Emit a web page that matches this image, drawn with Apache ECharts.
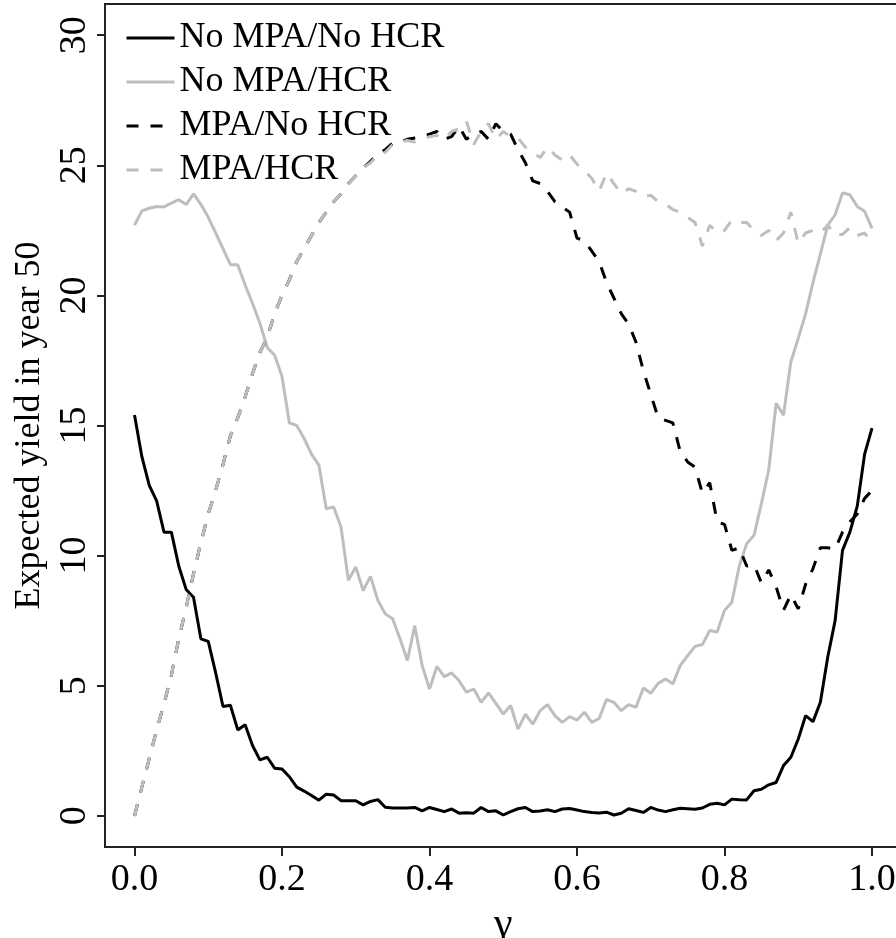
<!DOCTYPE html>
<html>
<head>
<meta charset="utf-8">
<script src="https://cdn.jsdelivr.net/npm/echarts@6/dist/echarts.min.js"></script>
<style>
html,body{margin:0;padding:0;background:#fff;}
#chart{width:896px;height:938px;}
</style>
</head>
<body>
<div id="chart"></div>
<script>
var gamma = [0.00,0.01,0.02,0.03,0.04,0.05,0.06,0.07,0.08,0.09,
0.10,0.11,0.12,0.13,0.14,0.15,0.16,0.17,0.18,0.19,
0.20,0.21,0.22,0.23,0.24,0.25,0.26,0.27,0.28,0.29,
0.30,0.31,0.32,0.33,0.34,0.35,0.36,0.37,0.38,0.39,
0.40,0.41,0.42,0.43,0.44,0.45,0.46,0.47,0.48,0.49,
0.50,0.51,0.52,0.53,0.54,0.55,0.56,0.57,0.58,0.59,
0.60,0.61,0.62,0.63,0.64,0.65,0.66,0.67,0.68,0.69,
0.70,0.71,0.72,0.73,0.74,0.75,0.76,0.77,0.78,0.79,
0.80,0.81,0.82,0.83,0.84,0.85,0.86,0.87,0.88,0.89,
0.90,0.91,0.92,0.93,0.94,0.95,0.96,0.97,0.98,0.99,1.00];

var noMpaNoHcr = [15.4,13.8,12.7,12.1,10.9,10.9,9.6,8.7,8.4,6.8,
6.7,5.5,4.2,4.25,3.3,3.5,2.7,2.15,2.25,1.83,
1.8,1.5,1.1,0.95,0.78,0.6,0.83,0.8,0.58,0.58,
0.58,0.42,0.55,0.62,0.33,0.3,0.3,0.3,0.32,0.19,
0.32,0.24,0.16,0.26,0.1,0.12,0.1,0.32,0.16,0.19,
0.03,0.16,0.27,0.32,0.16,0.18,0.23,0.16,0.26,0.28,
0.22,0.16,0.13,0.11,0.14,0.03,0.1,0.27,0.2,0.13,
0.32,0.22,0.16,0.23,0.29,0.27,0.25,0.3,0.44,0.48,
0.42,0.64,0.62,0.61,0.96,1.02,1.19,1.28,1.93,2.25,
2.95,3.85,3.62,4.36,6.1,7.5,10.2,10.9,11.9,13.9,14.9];

var noMpaHcr = [22.7,23.25,23.35,23.42,23.4,23.55,23.68,23.49,23.9,23.5,
23.0,22.4,21.8,21.18,21.18,20.4,19.7,18.93,18.0,17.7,
16.88,15.1,15.0,14.5,13.9,13.48,11.8,11.87,11.1,9.05,
9.56,8.66,9.2,8.28,7.76,7.57,6.8,5.97,7.3,5.78,
4.87,5.74,5.35,5.49,5.2,4.75,4.87,4.36,4.72,4.32,
3.91,4.24,3.33,3.91,3.52,4.04,4.27,3.85,3.59,3.81,
3.68,3.98,3.59,3.74,4.47,4.36,4.04,4.27,4.17,4.91,
4.71,5.09,5.26,5.07,5.78,6.15,6.51,6.58,7.12,7.06,
7.89,8.21,9.6,10.45,10.78,12.0,13.3,15.85,15.4,17.45,
18.35,19.3,20.5,21.6,22.7,23.1,23.94,23.87,23.42,23.23,22.58];

var mpaNoHcr = [0,1.1,2.2,3.3,4.3,5.4,6.8,8.0,9.3,10.5,
11.6,12.5,13.5,14.6,15.3,16.1,17.0,17.8,18.4,19.3,
20.0,20.6,21.3,21.8,22.3,22.8,23.2,23.6,23.9,24.3,
24.6,24.9,25.15,25.45,25.6,25.85,25.9,26.0,26.05,26.1,
26.2,26.3,26.0,26.1,26.5,26.0,26.2,26.3,26.0,26.6,
26.3,26.2,25.6,25.1,24.4,24.3,24.0,23.6,23.4,23.2,
22.2,22.1,21.7,21.3,20.5,19.9,19.3,18.9,18.2,17.1,
16.2,15.3,15.2,15.1,14.0,13.6,13.4,12.4,12.8,11.3,
11.2,10.2,10.3,9.6,9.65,8.95,9.45,8.8,7.9,8.5,
7.95,8.9,9.5,10.3,10.3,10.25,10.9,11.3,11.6,12.2,12.5];

var mpaHcr = [0,1.1,2.2,3.3,4.3,5.4,6.8,8.0,9.3,10.5,
11.6,12.5,13.5,14.6,15.3,16.1,17.0,17.8,18.4,19.3,
20.0,20.6,21.3,21.8,22.3,22.8,23.2,23.6,23.9,24.3,
24.6,24.9,25.1,25.4,25.5,25.8,25.9,25.95,25.9,26.0,
26.1,26.15,26.0,26.3,26.4,26.7,25.8,26.3,26.6,26.0,
26.3,26.1,26.05,25.7,25.5,25.3,25.7,25.4,25.2,25.4,
25.05,24.8,24.5,24.0,24.7,24.3,23.9,24.1,24.0,23.8,
23.85,23.6,23.5,23.3,23.2,23.0,22.8,21.9,22.7,22.4,
22.5,22.9,22.8,22.8,22.5,22.3,22.5,22.1,22.4,23.2,
22.0,22.4,22.5,22.4,22.7,22.3,22.35,22.6,22.3,22.4,22.0];

var seriesNames = ['No MPA/No HCR','No MPA/HCR','MPA/No HCR','MPA/HCR'];
var xTicks = [0,0.2,0.4,0.6,0.8,1.0];
var yTicks = [0,5,10,15,20,25,30];

function pairs(ys){ return gamma.map(function(g,i){ return [g, ys[i]]; }); }

var FONT = 'Liberation Serif';
var chart = echarts.init(document.getElementById('chart'), null, {renderer:'canvas'});

function mk(name, ys, color, dashed){
  return {
    name: name, type:'line', data: pairs(ys), symbol:'none', showSymbol:false,
    lineStyle:{color:color, width:3, type: dashed ? [12,12] : 'solid'},
    itemStyle:{color:color},
    emphasis:{disabled:true}, animation:false, z: 2
  };
}

chart.setOption({
  animation:false,
  backgroundColor:'#fff',
  grid:{left:105, right:-5.5, top:4, bottom:91, show:true, borderColor:'#222', borderWidth:2,
    backgroundColor:'transparent', containLabel:false, outerBoundsMode:'none'},
  legend:{
    show:true, orient:'vertical', left:120, top:15,
    itemWidth:48, itemHeight:14, itemGap:8,
    data: seriesNames,
    itemStyle:{opacity:0, borderWidth:0},
    lineStyle:{width:3},
    textStyle:{fontFamily:FONT, fontSize:36, color:'#000', lineHeight:36},
    selectedMode:false
  },
  xAxis:{
    type:'value', min:-0.04, max:1.04,
    name:'\u03b3', nameLocation:'middle', nameGap:55,
    nameTextStyle:{fontFamily:FONT, fontSize:42, color:'#000'},
    axisLine:{show:false, onZero:false},
    axisTick:{show:true, inside:false, length:9, lineStyle:{color:'#222', width:2}, customValues:xTicks},
    axisLabel:{show:true, fontFamily:FONT, fontSize:38, color:'#000', margin:14, customValues:xTicks,
      formatter:function(v){ return v.toFixed(1); }},
    splitLine:{show:false}
  },
  yAxis:{
    type:'value', min:-1.2, max:31.2,
    name:'Expected yield in year 50', nameLocation:'middle', nameGap:57, nameRotate:90,
    nameTextStyle:{fontFamily:FONT, fontSize:36, color:'#000'},
    axisLine:{show:false, onZero:false},
    axisTick:{show:true, inside:false, length:8, lineStyle:{color:'#222', width:2}, customValues:yTicks},
    axisLabel:{show:true, fontFamily:FONT, fontSize:38, color:'#000', margin:11, rotate:90, customValues:yTicks,
      formatter:function(v){ return String(v); }},
    splitLine:{show:false}
  },
  series:[
    mk(seriesNames[0], noMpaNoHcr, '#000000', false),
    mk(seriesNames[1], noMpaHcr, '#bebebe', false),
    mk(seriesNames[2], mpaNoHcr, '#000000', true),
    mk(seriesNames[3], mpaHcr, '#bebebe', true)
  ]
});
</script>
</body>
</html>
